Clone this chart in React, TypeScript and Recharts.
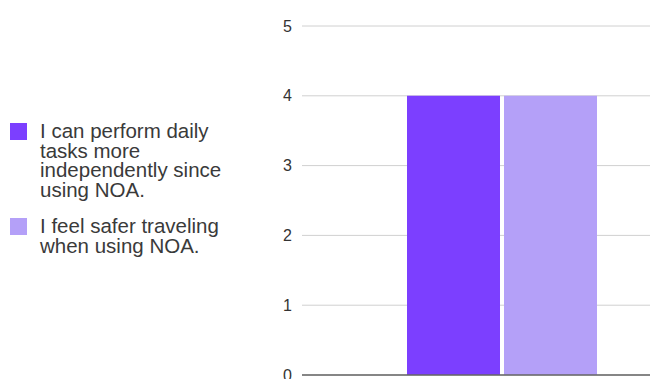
import React from "react";
import { BarChart, Bar, XAxis, YAxis, CartesianGrid, ReferenceLine } from "recharts";

const categories = [""];
const dailyTasks = [4];
const saferTravel = [4];
const yTicks = [0, 1, 2, 3, 4, 5];

const seriesNames = [
  "I can perform daily tasks more independently since using NOA.",
  "I feel safer traveling when using NOA.",
];
const seriesColors = ["#7c3fff", "#b4a0f8"];

const data = categories.map((c, i) => ({
  name: c,
  daily: dailyTasks[i],
  safer: saferTravel[i],
}));

const font = "'Liberation Sans', Arial, sans-serif";

export default function App() {
  return (
    <div
      style={{
        position: "absolute",
        left: 0,
        top: 0,
        width: 650,
        height: 379,
        overflow: "hidden",
        background: "#fff",
        fontFamily: font,
      }}
    >
      {/* legend */}
      <div style={{ position: "absolute", left: 10, top: 121, width: 220 }}>
        {seriesNames.map((n, i) => (
          <div key={n} style={{ display: "flex", alignItems: "flex-start", marginBottom: 17 }}>
            <div
              style={{
                width: 17,
                height: 17,
                background: seriesColors[i],
                marginTop: 2,
                marginRight: 13,
                flexShrink: 0,
              }}
            />
            <div style={{ fontSize: 20.5, lineHeight: "19.5px", color: "#3a3a3a", width: 190 }}>{n}</div>
          </div>
        ))}
      </div>

      <div style={{ position: "absolute", left: 0, top: 0 }}>
        <BarChart
          width={720}
          height={379}
          data={data}
          margin={{ top: 26, right: 18, bottom: 4, left: 0 }}
          barGap={4}
          barSize={93}
        >
          <CartesianGrid vertical={false} stroke="#d0d0d0" />
          <XAxis dataKey="name" tick={false} tickLine={false} axisLine={false} height={0} />
          <YAxis
            width={302}
            domain={[0, 5]}
            ticks={yTicks}
            interval={0}
            tickLine={false}
            axisLine={false}
            tickSize={0}
            tickMargin={10}
            tick={{ fill: "#333", fontSize: 16, fontFamily: font }}
          />
          <Bar dataKey="daily" fill={seriesColors[0]} isAnimationActive={false} />
          <Bar dataKey="safer" fill={seriesColors[1]} isAnimationActive={false} />
          <ReferenceLine y={0} stroke="#666" strokeWidth={1.5} />
        </BarChart>
      </div>
    </div>
  );
}
